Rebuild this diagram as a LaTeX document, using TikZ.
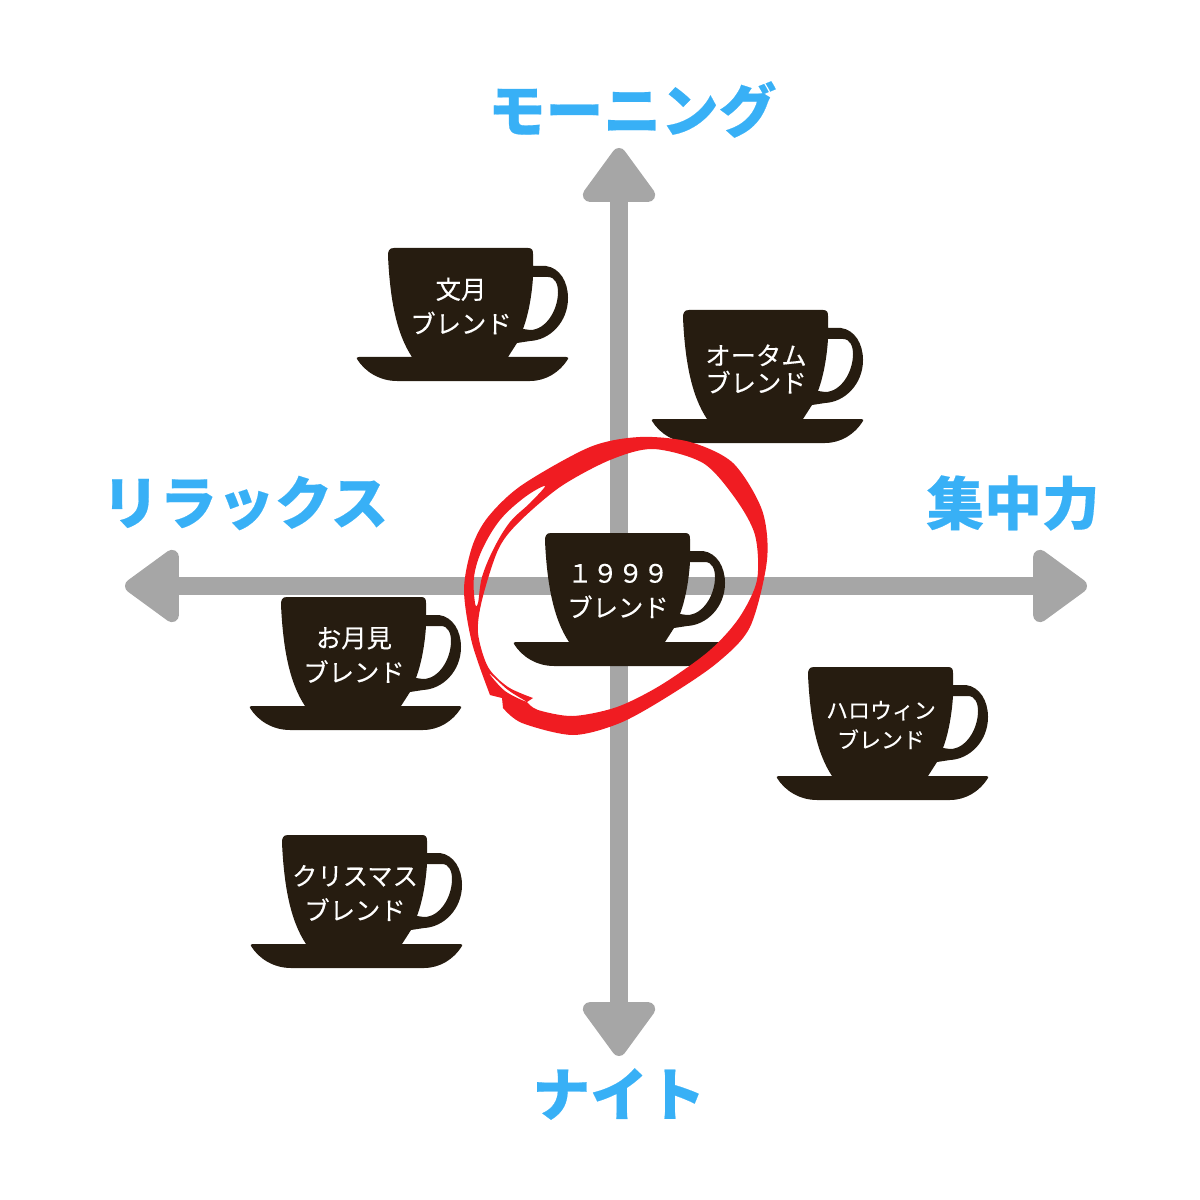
\documentclass[tikz,border=0pt]{standalone}
\usepackage{fontspec}
\usetikzlibrary{arrows.meta,positioning}
\newfontfamily\jpfont[BoldFeatures={FakeBold=0.3}]{Noto Sans CJK JP}
\newfontfamily\cupfont[FakeBold=0.2]{Noto Sans CJK JP}
\definecolor{cupbrown}{HTML}{261C10}
\definecolor{axisgray}{HTML}{A6A6A6}
\definecolor{labelblue}{HTML}{38B0F6}
\definecolor{ringred}{HTML}{F01C22}
\tikzset{
  axisline/.style={draw=axisgray,line width=0.44cm,
    {Triangle[length=1.48cm,width=2.05cm,round,line width=0.35cm,fill=axisgray,color=axisgray]}-{Triangle[length=1.48cm,width=2.05cm,round,line width=0.35cm,fill=axisgray,color=axisgray]}},
  axislabel/.style={text=labelblue,inner sep=0pt,font=\jpfont\bfseries\fontsize{41}{48}\selectfont},
  cuplabel/.style={text=white,inner sep=0pt,align=center,font=\cupfont\fontsize{18}{24.5}\selectfont},
  smallcuplabel/.style={cuplabel,font=\cupfont\fontsize{15.6}{21}\selectfont},
  coffeecup/.pic={
    \fill[cupbrown,even odd rule]
      (0,8) .. controls (0,3) and (1,0) .. (6,0) -- (140,0)
      .. controls (144,0) and (145,2) .. (145,6) -- (145,18) -- (158,18)
      .. controls (172,20) and (180,34) .. (180,50)
      .. controls (180,74) and (162,92) .. (142,93) -- (129,95) -- (120,109) -- (178,109)
      .. controls (180,109) and (181,110) .. (180,111)
      .. controls (172,124) and (158,133) .. (142,133) -- (9,133)
      .. controls (-8,133) and (-23,124) .. (-31,111)
      .. controls (-32,110) and (-31,109) .. (-29,109) -- (24,109)
      .. controls (8,85) and (2,50) .. (0,8) -- cycle
      (145,29) -- (160,29) .. controls (167,29) and (170,36) .. (170,44)
      .. controls (170,62) and (158,82) .. (142,82) -- (135,81)
      .. controls (141,65) and (144,45) .. (145,29) -- cycle;
  }
}
\begin{document}
\begin{tikzpicture}[x=0.025cm,y=-0.025cm]
  \useasboundingbox (0,0) rectangle (1200,1200);

  % axes
  \coordinate (axleft) at (125,586);
  \coordinate (axright) at (1087,586);
  \coordinate (axtop) at (619,148);
  \coordinate (axbot) at (619,1056);
  \draw[axisline] (axleft) -- (axright);
  \draw[axisline] (axtop) -- (axbot);

  \node[axislabel, above = 0.25cm of axtop, xshift=0.33cm] (morning) {モーニング};
  \node[axislabel, below = 0.3cm of axbot] (night) {ナイト};
  \node[axislabel] (relax) at (245,503) {リラックス};
  \node[axislabel] (focus) at (1013,503) {集中力};

  % cups
  \pic at (388,248) {coffeecup};
  \pic at (683,310) {coffeecup};
  \pic at (545,533) {coffeecup};
  \pic at (281,597) {coffeecup};
  \pic at (808,667) {coffeecup};
  \pic at (282,835) {coffeecup};

  \node[cuplabel] (fumi) at (461,306) {文月\\ブレンド};
  \node[cuplabel] (autumn) at (756,369) {オータム\\[-5pt]ブレンド};
  \node[cuplabel] (blend1999) at (618,591) {１９９９\\ブレンド};
  \node[cuplabel] (moon) at (354,655) {お月見\\ブレンド};
  \node[smallcuplabel] (halloween) at (881,725) {ハロウィン\\ブレンド};
  \node[cuplabel] (xmas) at (355,893) {クリスマス\\ブレンド};

  % red ring: outer edge, inner edge with its tail, then the two gaps
  \fill[ringred,even odd rule]
    plot[smooth] coordinates {(503,708) (522,723) (573,735) (620,723) (667,697) (717,663) (750,627) (767,560) (762,510) (733,463) (690,442) (640,437) (590,447) (522,485) (488,517) (472,547) (464,590) (472,643) (490,695)} -- (502,698) -- cycle
    plot[smooth] coordinates {(533,698) (508,687) (488,667) (478,633) (482,600) (498,550) (518,523) (560,487) (610,460) (653,449) (703,463) (735,498) (755,535) (757,580) (739,618) (709,651) (661,685) (617,707) (573,716) (538,710) (527,702)} -- cycle
    plot[smooth cycle,tension=0.6] coordinates {(545,486) (525,497) (500,520) (482,550) (474,577) (475,603) (478,603) (482,577) (494,548) (510,522) (530,503)}
    plot[smooth cycle,tension=0.6] coordinates {(489,673) (505,691) (527,702) (508,690)};
\end{tikzpicture}
\end{document}
